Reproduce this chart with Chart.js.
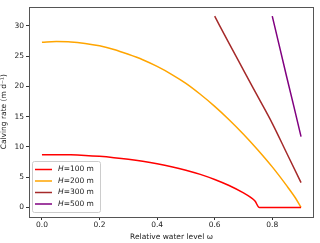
<!DOCTYPE html>
<html>
<head>
<meta charset="utf-8">
<script src="https://cdn.jsdelivr.net/npm/chart.js@4"></script>
<style>
  html, body { margin: 0; padding: 0; background: #fff; }
  #wrap { width: 320px; height: 243px; }
</style>
</head>
<body>
<div id="wrap"><canvas id="calvingChart" width="320" height="243"></canvas></div>
<script>
// values
var omega100 = [0, 0.05, 0.1, 0.15, 0.2, 0.25, 0.3, 0.35, 0.4, 0.45, 0.5, 0.55, 0.6, 0.65, 0.7, 0.725, 0.74, 0.755, 0.8, 0.85, 0.9];
var rate100  = [8.7, 8.72, 8.7, 8.6, 8.44, 8.22, 7.95, 7.62, 7.22, 6.74, 6.16, 5.46, 4.62, 3.62, 2.4, 1.65, 1.05, 0, 0, 0, 0];

var omega200 = [0, 0.05, 0.1, 0.15, 0.2, 0.25, 0.3, 0.35, 0.4, 0.45, 0.5, 0.55, 0.6, 0.65, 0.7, 0.75, 0.8, 0.85, 0.88, 0.9];
var rate200  = [27.3, 27.4, 27.35, 27.1, 26.7, 26.1, 25.3, 24.4, 23.3, 22.0, 20.5, 18.7, 16.7, 14.5, 12.1, 9.5, 6.7, 3.6, 1.6, 0];

var omega300 = [0.6, 0.65, 0.7, 0.75, 0.8, 0.85, 0.9];
var rate300  = [31.6, 27.1, 22.7, 18.3, 13.9, 9.0, 4.1];

var omega500 = [0.8, 0.825, 0.85, 0.875, 0.9];
var rate500  = [31.6, 26.6, 21.6, 16.7, 11.7];

var labels = ['100', '200', '300', '500'];
var colors = ['#ff0000', '#ffa500', '#a52a2a', '#800080'];

var xTicks = [0, 0.2, 0.4, 0.6, 0.8];
var yTicks = [0, 5, 10, 15, 20, 25, 30];

function pts(xs, ys) {
  return xs.map(function (x, i) { return { x: x, y: ys[i] }; });
}

var FONT = 'DejaVu Sans';

// box round the plot, like matplotlib's spines
var framePlugin = {
  id: 'frame',
  afterDatasetsDraw: function (chart) {
    var a = chart.chartArea, ctx = chart.ctx;
    ctx.save();
    ctx.strokeStyle = '#555';
    ctx.lineWidth = 1;
    ctx.strokeRect(Math.round(a.left) + 0.5, Math.round(a.top) + 0.5,
                   Math.round(a.right - a.left) - 1, Math.round(a.bottom - a.top) - 1);
    ctx.restore();
  }
};

// legend with italic H, lower left corner
var legendPlugin = {
  id: 'mplLegend',
  afterDraw: function (chart) {
    var a = chart.chartArea, ctx = chart.ctx;
    var x0 = a.left + 3, y0 = a.bottom - 56, w = 68, h = 51;
    ctx.save();
    ctx.fillStyle = 'rgba(255,255,255,0.8)';
    ctx.strokeStyle = '#cccccc';
    ctx.lineWidth = 1;
    ctx.beginPath();
    ctx.roundRect(x0 + 0.5, y0 + 0.5, w, h, 2);
    ctx.fill();
    ctx.stroke();
    ctx.textBaseline = 'middle';
    for (var i = 0; i < labels.length; i++) {
      var y = y0 + 8.5 + i * 11.5;
      ctx.strokeStyle = colors[i];
      ctx.lineWidth = 1.5;
      ctx.beginPath();
      ctx.moveTo(x0 + 3, y);
      ctx.lineTo(x0 + 20, y);
      ctx.stroke();
      ctx.fillStyle = '#222';
      ctx.font = 'italic 7.5px ' + FONT;
      ctx.fillText('H', x0 + 26, y);
      var hw = ctx.measureText('H').width;
      ctx.font = '7.5px ' + FONT;
      ctx.fillText('=' + labels[i] + ' m', x0 + 26 + hw, y);
    }
    ctx.restore();
  }
};

var datasets = [
  { data: pts(omega100, rate100), cubicInterpolationMode: 'monotone' },
  { data: pts(omega200, rate200), cubicInterpolationMode: 'monotone' },
  { data: pts(omega300, rate300), cubicInterpolationMode: 'monotone' },
  { data: pts(omega500, rate500) }
].map(function (d, i) {
  d.label = 'H=' + labels[i] + ' m';
  d.borderColor = colors[i];
  d.backgroundColor = colors[i];
  d.borderWidth = 1.5;
  d.pointRadius = 0;
  d.fill = false;
  return d;
});

new Chart(document.getElementById('calvingChart'), {
  type: 'line',
  data: { datasets: datasets },
  options: {
    responsive: false,
    animation: false,
    layout: { padding: { top: 4, right: 6, left: 0, bottom: 0 } },
    plugins: { legend: { display: false }, tooltip: { enabled: false } },
    scales: {
      x: {
        type: 'linear',
        min: -0.045,
        max: 0.945,
        afterBuildTicks: function (s) { s.ticks = xTicks.map(function (v) { return { value: v }; }); },
        afterFit: function (s) { s.height = 26; },
        ticks: {
          color: '#222', font: { family: FONT, size: 7.5 }, padding: 1,
          maxRotation: 0,
          callback: function (v) { return v.toFixed(1); }
        },
        grid: { drawOnChartArea: false, drawTicks: true, tickLength: 3, color: '#333' },
        border: { display: false },
        title: { display: true, text: 'Relative water level ω', color: '#222',
                 font: { family: FONT, size: 7.5 }, padding: { top: 1, bottom: 1 } }
      },
      y: {
        min: -1.58,
        max: 33.2,
        afterBuildTicks: function (s) { s.ticks = yTicks.map(function (v) { return { value: v }; }); },
        afterFit: function (s) { s.width = 29; },
        ticks: { color: '#222', font: { family: FONT, size: 7.5 }, padding: 2 },
        grid: { drawOnChartArea: false, drawTicks: true, tickLength: 3, color: '#333' },
        border: { display: false },
        title: { display: true, text: 'Calving rate (m d⁻¹)', color: '#222',
                 font: { family: FONT, size: 7.5 }, padding: { top: 0, bottom: 0 } }
      }
    }
  },
  plugins: [framePlugin, legendPlugin]
});
</script>
</body>
</html>
